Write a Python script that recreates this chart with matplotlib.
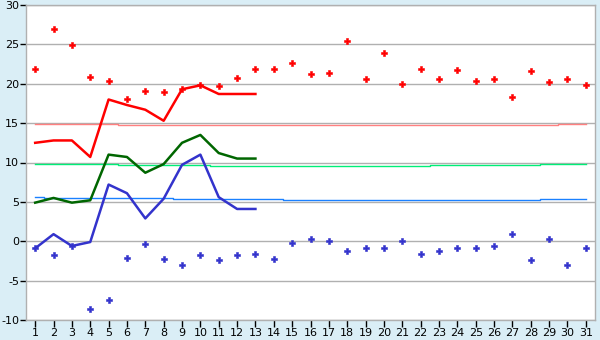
import matplotlib
matplotlib.use("Agg")
import matplotlib.pyplot as plt
import numpy as np

plt.rcParams["axes.unicode_minus"] = False

days = list(range(1, 32))

# daily extremes (markers)
max_temps = [21.9, 27.0, 24.9, 20.9, 20.4, 18.1, 19.1, 19.0, 19.3, 19.8, 19.7,
             20.7, 21.9, 21.9, 22.6, 21.2, 21.4, 25.4, 20.6, 23.9, 20.0, 21.9,
             20.6, 21.7, 20.4, 20.6, 18.3, 21.6, 20.2, 20.6, 19.8]
min_temps = [-0.9, -1.8, -0.6, -8.6, -7.4, -2.1, -0.4, -2.3, -3.0, -1.8, -2.4,
             -1.8, -1.6, -2.2, -0.2, 0.3, 0.0, -1.2, -0.9, -0.8, 0.0, -1.6,
             -1.3, -0.9, -0.9, -0.6, 0.9, -2.4, 0.3, -3.0, -0.9]

# running lines (days 1-13)
line_days = list(range(1, 14))
line_max = [12.5, 12.8, 12.8, 10.7, 18.0, 17.3, 16.7, 15.3, 19.3, 19.8, 18.7, 18.7, 18.7]
line_mean = [4.9, 5.5, 4.9, 5.2, 11.0, 10.7, 8.7, 9.8, 12.5, 13.5, 11.2, 10.5, 10.5]
line_min = [-0.9, 0.9, -0.6, -0.1, 7.2, 6.1, 2.9, 5.4, 9.7, 11.0, 5.6, 4.1, 4.1]

# normals
norm_max = [14.95]*5 + [14.82]*9 + [14.70]*5 + [14.82]*10 + [14.95]*2
norm_mean = [9.78]*5 + [9.66]*5 + [9.53]*12 + [9.66]*6 + [9.78]*3
norm_min = [5.68] + [5.51]*7 + [5.38]*6 + [5.30]*14 + [5.38]*3

yticks = list(range(-10, 31, 5))

fig = plt.figure(figsize=(6, 3.4), dpi=100, facecolor="#daeef6")
ax = fig.add_axes([26/600, 1-320/340, (595-26)/600, (320-5)/340])
ax.set_facecolor("white")

ax.set_xlim(0.5, 31.5)
ax.set_ylim(-10, 30)
ax.set_yticks(yticks)
ax.set_yticklabels([str(v) for v in yticks])
ax.set_xticks(days)
ax.yaxis.grid(True, color="#b0b0b0", linewidth=1)
ax.set_axisbelow(True)

for s in ["left", "bottom", "top", "right"]:
    ax.spines[s].set_color("#b0b0b0")
    ax.spines[s].set_linewidth(1)

ax.tick_params(axis="both", colors="#000000", labelsize=8, length=4, width=1, pad=1)
ax.tick_params(axis="x", length=5, pad=1)

ax.step(days, norm_max, where="mid", color="#ff8080", linewidth=1)
ax.step(days, norm_mean, where="mid", color="#00ee77", linewidth=1)
ax.step(days, norm_min, where="mid", color="#1a80ff", linewidth=1)

ax.plot(line_days, line_max, color="#ff0000", linewidth=1.8)
ax.plot(line_days, line_mean, color="#006600", linewidth=1.8)
ax.plot(line_days, line_min, color="#3333cc", linewidth=1.8)

ax.plot(days, max_temps, linestyle="none", marker="P", markersize=4.5, color="#ff0000",
        markeredgewidth=0.4)
ax.plot(days, min_temps, linestyle="none", marker="P", markersize=4.5, color="#3333cc",
        markeredgewidth=0.4)

fig.savefig("out.png", dpi=100, facecolor=fig.get_facecolor())
